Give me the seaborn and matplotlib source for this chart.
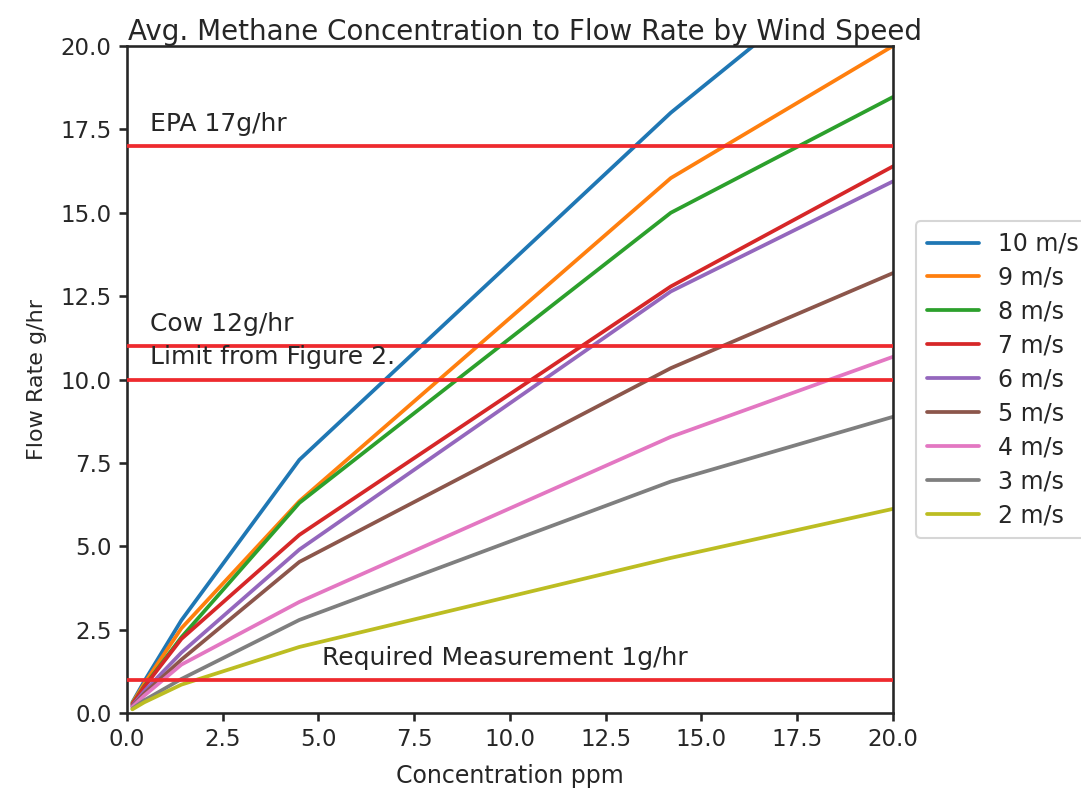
import matplotlib
matplotlib.use("Agg")
import matplotlib.pyplot as plt
import seaborn as sns
import pandas as pd

# concentration (ppm) sample points shared by every wind speed
conc = [0.14, 0.45, 1.42, 4.5, 14.2, 20.0]

wind_labels = ["10 m/s", "9 m/s", "8 m/s", "7 m/s", "6 m/s",
               "5 m/s", "4 m/s", "3 m/s", "2 m/s"]

flow_10 = [0.32, 0.95, 2.78, 7.59, 18.0, 23.4]
flow_9 = [0.30, 0.88, 2.54, 6.35, 16.04, 20.0]
flow_8 = [0.27, 0.80, 2.27, 6.30, 15.0, 18.47]
flow_7 = [0.26, 0.78, 2.22, 5.34, 12.79, 16.39]
flow_6 = [0.22, 0.65, 1.81, 4.90, 12.64, 15.94]
flow_5 = [0.20, 0.58, 1.60, 4.53, 10.34, 13.19]
flow_4 = [0.18, 0.52, 1.45, 3.33, 8.28, 10.68]
flow_3 = [0.13, 0.38, 1.02, 2.79, 6.94, 8.88]
flow_2 = [0.11, 0.32, 0.85, 1.98, 4.65, 6.12]

flows = [flow_10, flow_9, flow_8, flow_7, flow_6,
         flow_5, flow_4, flow_3, flow_2]

# reference limits (g/hr) and their labels
limit_values = [17, 11, 10, 1]
limit_labels = ["EPA 17g/hr", "Cow 12g/hr", "Limit from Figure 2.",
                "Required Measurement 1g/hr"]
limit_text_x = [0.6, 0.6, 0.6, 5.1]

rows = []
for label, ys in zip(wind_labels, flows):
    for x, y in zip(conc, ys):
        rows.append({"Concentration ppm": x, "Flow Rate g/hr": y, "wind": label})
df = pd.DataFrame(rows)

sns.set_theme(context="talk", style="ticks")
plt.rcParams["font.family"] = ["DejaVu Sans"]

fig, ax = plt.subplots(figsize=(10.81, 7.88), dpi=100)
fig.subplots_adjust(left=0.1175, right=0.826, top=0.9416, bottom=0.0952)

palette = sns.color_palette("tab10", len(wind_labels))
sns.lineplot(
    data=df,
    x="Concentration ppm",
    y="Flow Rate g/hr",
    hue="wind",
    hue_order=wind_labels,
    palette=palette,
    sort=False,
    estimator=None,
    linewidth=2.7,
    ax=ax,
)

for val, lab, tx in zip(limit_values, limit_labels, limit_text_x):
    ax.axhline(val, color="#ee2a2e", linewidth=2.7, zorder=3)
    ax.text(tx, val + 0.3, lab, fontsize=18, color=".15", va="bottom", ha="left")

ax.set_xlim(0, 20)
ax.set_ylim(0, 20)
ax.set_xticks([0, 2.5, 5, 7.5, 10, 12.5, 15, 17.5, 20])
ax.set_yticks([0, 2.5, 5, 7.5, 10, 12.5, 15, 17.5, 20])
ax.xaxis.set_major_formatter(matplotlib.ticker.FormatStrFormatter("%.1f"))
ax.yaxis.set_major_formatter(matplotlib.ticker.FormatStrFormatter("%.1f"))
ax.tick_params(labelsize=16.5, length=6, pad=5)

ax.set_xlabel("Concentration ppm", fontsize=17, labelpad=9)
ax.set_ylabel("Flow Rate g/hr", fontsize=16, labelpad=10)
ax.set_title("Avg. Methane Concentration to Flow Rate by Wind Speed",
             fontsize=20, pad=4, x=0.52)

handles, labels = ax.get_legend_handles_labels()
ax.legend(
    handles,
    labels,
    loc="center left",
    bbox_to_anchor=(1.015, 0.5),
    frameon=True,
    fontsize=17,
    handlelength=2.2,
    labelspacing=0.42,
    borderpad=0.45,
)

fig.savefig("out.png", dpi=100)
